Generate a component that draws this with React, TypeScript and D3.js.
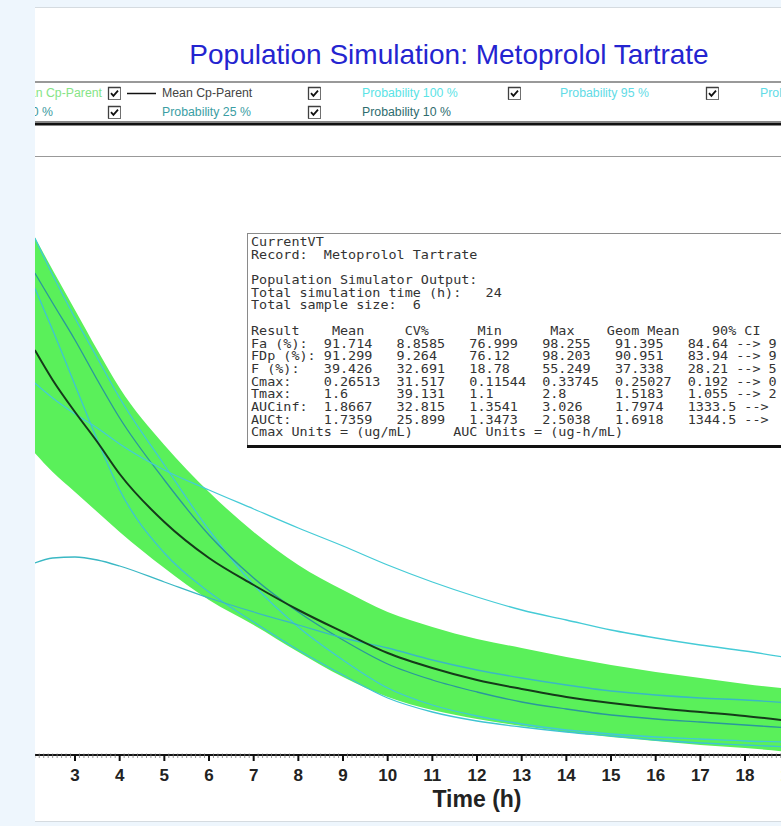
import React from 'react';
import * as d3 from 'd3';

// sampling times (h) used to trace the curves
const times = [2.1, 2.5, 3, 3.5, 4, 5, 6, 7, 8, 9, 10, 11, 12, 13, 14, 15, 16, 17, 18, 19];

// Cp-Parent (ug/mL)
const meanCp = [0.2025, 0.1875, 0.1715, 0.1565, 0.1405, 0.1165, 0.0985, 0.085, 0.0725, 0.0615, 0.051, 0.0435, 0.0375, 0.033, 0.029, 0.026, 0.0235, 0.0215, 0.0195, 0.017];
const bandUpper = [0.259, 0.2425, 0.2225, 0.2025, 0.1835, 0.155, 0.1315, 0.1115, 0.095, 0.0825, 0.0715, 0.064, 0.058, 0.0535, 0.049, 0.045, 0.0415, 0.0385, 0.0355, 0.033];
const bandLower = [0.151, 0.1415, 0.1315, 0.1215, 0.1115, 0.0935, 0.0775, 0.065, 0.0515, 0.039, 0.029, 0.0225, 0.018, 0.0145, 0.0115, 0.009, 0.007, 0.005, 0.0035, 0.0015];

// individual simulated subjects
const subject1 = [0.2585, 0.24, 0.2185, 0.1985, 0.1785, 0.145, 0.1125, 0.085, 0.064, 0.0475, 0.0335, 0.025, 0.0195, 0.0155, 0.0125, 0.0105, 0.009, 0.008, 0.007, 0.0065];
const subject2 = [0.241, 0.226, 0.2075, 0.1875, 0.1685, 0.1375, 0.11, 0.0885, 0.0715, 0.0575, 0.0455, 0.0375, 0.0315, 0.0265, 0.023, 0.02, 0.018, 0.0165, 0.015, 0.0135];
const subject3 = [0.2335, 0.2125, 0.185, 0.1575, 0.1325, 0.101, 0.0815, 0.0665, 0.0525, 0.04, 0.0285, 0.0215, 0.017, 0.014, 0.0115, 0.0095, 0.0075, 0.006, 0.005, 0.004];
const subject4 = [0.186, 0.1785, 0.1705, 0.1635, 0.1555, 0.1425, 0.1325, 0.123, 0.1135, 0.1045, 0.095, 0.0865, 0.079, 0.0725, 0.0675, 0.0625, 0.0585, 0.055, 0.052, 0.0485];
const subject5 = [0.096, 0.0985, 0.099, 0.0975, 0.0945, 0.0865, 0.0785, 0.0715, 0.065, 0.0585, 0.0535, 0.0475, 0.0425, 0.0385, 0.035, 0.032, 0.03, 0.0285, 0.0275, 0.026];
const subjectColors = ['#42c8d6', '#2a979c', '#3fc4d2', '#45cbd6', '#3ab8c4'];

const xTicks = d3.range(2, 20);

const legendRow1 = [
  { label: 'Median Cp-Parent', color: '#86e486', x: 102, anchor: 'end' },
  { label: 'Mean Cp-Parent', color: '#444444', x: 162, anchor: 'start' },
  { label: 'Probability 100 %', color: '#5ae3e6', x: 362, anchor: 'start' },
  { label: 'Probability 95 %', color: '#62dbe6', x: 560, anchor: 'start' },
  { label: 'Probability 90 %', color: '#62dbe6', x: 760, anchor: 'start' },
];
const legendRow2 = [
  { label: 'Probability 50 %', color: '#3b9aa0', x: 53, anchor: 'end' },
  { label: 'Probability 25 %', color: '#3b9ea4', x: 162, anchor: 'start' },
  { label: 'Probability 10 %', color: '#2e6c6e', x: 362, anchor: 'start' },
];
const checkRow1 = [108, 308, 508, 706];
const checkRow2 = [108, 308];

const headerText = ['CurrentVT', 'Record:  Metoprolol Tartrate', '', 'Population Simulator Output:', 'Total simulation time (h):   24', 'Total sample size:  6', ''];
const statHeader = ['Result', 'Mean', 'CV%', 'Min', 'Max', 'Geom Mean', '90% CI'];
const statRows = [
  ['Fa (%):', '91.714', '8.8585', '76.999', '98.255', '91.395', '84.64 --> 9'],
  ['FDp (%):', '91.299', '9.264', '76.12', '98.203', '90.951', '83.94 --> 9'],
  ['F (%):', '39.426', '32.691', '18.78', '55.249', '37.338', '28.21 --> 5'],
  ['Cmax:', '0.26513', '31.517', '0.11544', '0.33745', '0.25027', '0.192 --> 0'],
  ['Tmax:', '1.6', '39.131', '1.1', '2.8', '1.5183', '1.055 --> 2'],
  ['AUCinf:', '1.8667', '32.815', '1.3541', '3.026', '1.7974', '1333.5 -->'],
  ['AUCt:', '1.7359', '25.899', '1.3473', '2.5038', '1.6918', '1344.5 -->'],
];
const unitsLine = 'Cmax Units = (ug/mL)     AUC Units = (ug-h/mL)';

const headCols = [0, 10, 19, 28, 37, 44, 57];
const rowCols = [0, 9, 18, 27, 36, 45, 54];
const layout = (parts: string[], cols: number[]) => {
  let s = '';
  parts.forEach((p, i) => {
    s = s.padEnd(cols[i], ' ') + p;
  });
  return s;
};

const W = 781;
const H = 826;
const panel = { left: 35, top: 7, right: 781, bottom: 822 };
const axisY = 755;

const x = d3.scaleLinear().domain([2, 19]).range([30.33, 789.7]);
const y = d3.scaleLinear().domain([0, 0.3]).range([axisY, 155]);

const line = d3
  .line<number>()
  .x((_, i) => x(times[i]))
  .y((d) => y(d))
  .curve(d3.curveMonotoneX);

const band = d3
  .area<number>()
  .x((_, i) => x(times[i]))
  .y0((_, i) => y(bandLower[i]))
  .y1((d) => y(d))
  .curve(d3.curveMonotoneX);

const CheckBox = ({ cx, cy }: { cx: number; cy: number }) => (
  <g transform={`translate(${cx},${cy})`}>
    <rect x={0.5} y={0.5} width={12} height={12} fill="#fff" stroke="#707070" />
    <path d="M0.5 12.5 V0.5 H12.5" fill="none" stroke="#404040" strokeWidth={1.3} />
    <path d="M3 6.2 L5.4 8.8 L10 3.6" fill="none" stroke="#111" strokeWidth={1.8} />
  </g>
);

export default function App() {
  const sans = "'Liberation Sans', Arial, sans-serif";
  const mono = "'DejaVu Sans Mono', monospace";
  const minorTicks = d3.range(20, 191).map((d) => d / 10).filter((d) => d % 1 !== 0);
  const textLines = [
    ...headerText,
    layout(statHeader, headCols),
    ...statRows.map((r) => layout(r, rowCols)),
    unitsLine,
  ];
  const subjects = [subject1, subject2, subject3, subject4, subject5];

  return (
    <svg
      width={W}
      height={H}
      style={{ position: 'absolute', left: 0, top: 0, display: 'block' }}
    >
      <defs>
        <clipPath id="panelClip">
          <rect x={panel.left} y={panel.top} width={panel.right - panel.left} height={panel.bottom - panel.top} />
        </clipPath>
        <clipPath id="plotClip">
          <rect x={panel.left} y={157} width={panel.right - panel.left} height={axisY - 157} />
        </clipPath>
      </defs>
      <rect x={0} y={0} width={W} height={H} fill="#eef6fd" />
      <rect x={panel.left} y={panel.top} width={W} height={panel.bottom - panel.top} fill="#fff" />
      <line x1={panel.left} x2={W} y1={panel.top + 0.5} y2={panel.top + 0.5} stroke="#d5dbe0" />
      <line x1={panel.left} x2={W} y1={panel.bottom - 0.5} y2={panel.bottom - 0.5} stroke="#d5dbe0" />

      <g clipPath="url(#panelClip)">
        <text x={449} y={64} textAnchor="middle" fontFamily={sans} fontSize={28} fill="#2424d0">
          Population Simulation: Metoprolol Tartrate
        </text>

        {/* legend */}
        <line x1={panel.left} x2={W} y1={82} y2={82} stroke="#777" strokeWidth={1.5} />
        <line x1={panel.left} x2={W} y1={121.5} y2={121.5} stroke="#888" />
        <line x1={panel.left} x2={W} y1={124} y2={124} stroke="#111" strokeWidth={3} />
        {checkRow1.map((cx) => <CheckBox key={'a' + cx} cx={cx} cy={87} />)}
        {checkRow2.map((cx) => <CheckBox key={'b' + cx} cx={cx} cy={106} />)}
        <line x1={127} x2={156} y1={93.5} y2={93.5} stroke="#111" strokeWidth={1.5} />
        {legendRow1.map((l) => (
          <text key={l.label} x={l.x} y={97} fontFamily={sans} fontSize={12.3} fill={l.color} textAnchor={l.anchor as any}>
            {l.label}
          </text>
        ))}
        {legendRow2.map((l) => (
          <text key={l.label} x={l.x} y={116} fontFamily={sans} fontSize={12.3} fill={l.color} textAnchor={l.anchor as any}>
            {l.label}
          </text>
        ))}
        <line x1={panel.left} x2={W} y1={156.5} y2={156.5} stroke="#999" />

        {/* plot */}
        <g clipPath="url(#plotClip)">
          <path d={band(bandUpper) ?? ''} fill="#5af05a" />
          {subjects.map((s, i) => (
            <path key={i} d={line(s) ?? ''} fill="none" stroke={subjectColors[i]} strokeWidth={1.3} />
          ))}
          <path d={line(meanCp) ?? ''} fill="none" stroke="#153a1a" strokeWidth={2} />
        </g>

        {/* x axis */}
        <line x1={panel.left} x2={W} y1={axisY} y2={axisY} stroke="#111" strokeWidth={2} />
        {minorTicks.map((t) => (
          <line key={t} x1={x(t)} x2={x(t)} y1={axisY - 1.5} y2={axisY + 3} stroke="#777" strokeWidth={0.8} />
        ))}
        {xTicks.map((t) => (
          <g key={t}>
            <line x1={x(t)} x2={x(t)} y1={axisY} y2={axisY + 6} stroke="#111" strokeWidth={2} />
            <text x={x(t)} y={781} textAnchor="middle" fontFamily={sans} fontWeight="bold" fontSize={17} fill="#222">
              {t}
            </text>
          </g>
        ))}
        <text x={477} y={807} textAnchor="middle" fontFamily={sans} fontWeight="bold" fontSize={23} fill="#222">
          Time (h)
        </text>

        {/* statistics box */}
        <rect x={247.5} y={233.5} width={600} height={212} fill="#fff" stroke="#8a8a8a" />
        <line x1={247} x2={W} y1={446.5} y2={446.5} stroke="#111" strokeWidth={3} />
        <g transform="translate(251,0) scale(1.12,1)">
          {textLines.map((s, i) => (
            <text key={i} x={0} y={246 + i * 12.7} fontFamily={mono} fontSize={12} fill="#333" style={{ whiteSpace: 'pre' }}>
              {s}
            </text>
          ))}
        </g>
      </g>
    </svg>
  );
}
